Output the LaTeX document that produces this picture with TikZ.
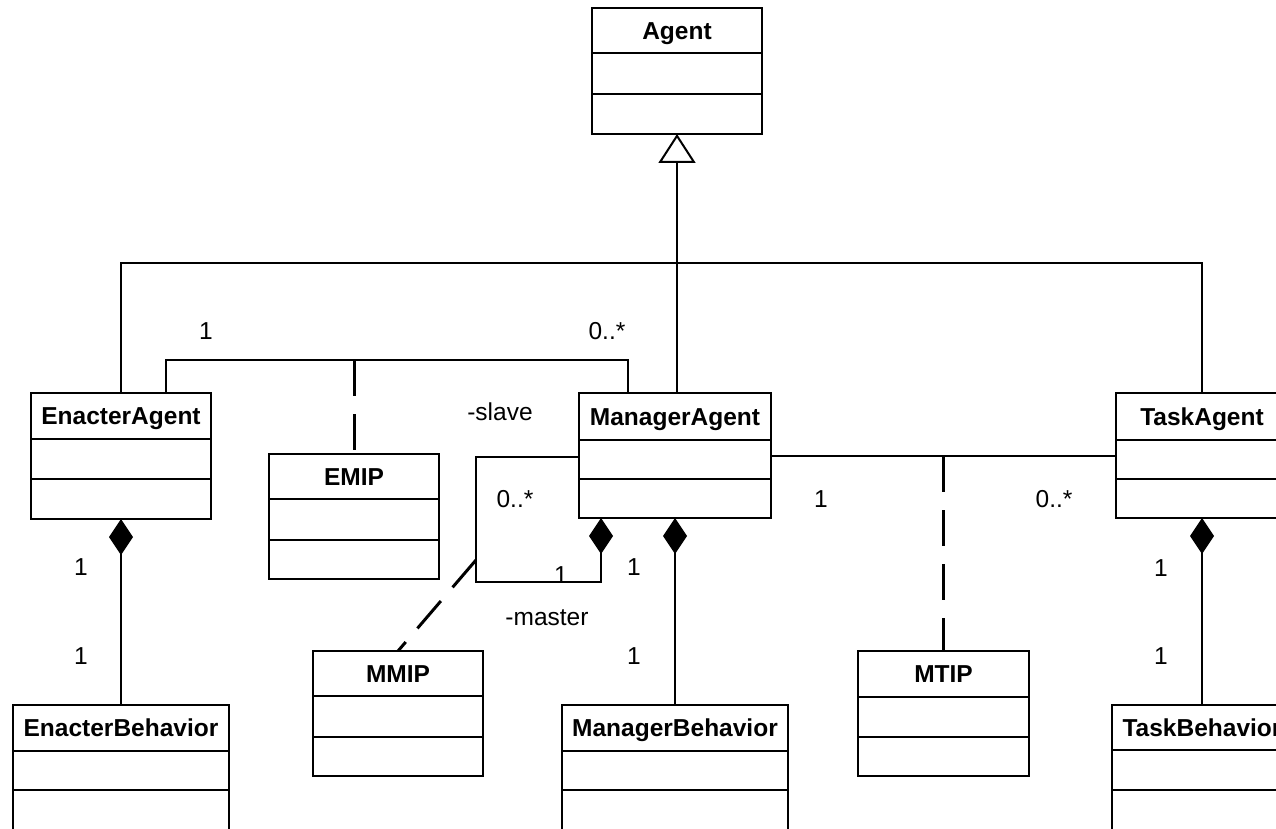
\documentclass[tikz,border=0pt]{standalone}
\usepackage{fontspec}
\setmainfont{Liberation Sans}
\usetikzlibrary{arrows.meta,calc,fit}
\newcommand{\umlclass}[8]{%
  \node[clsbox, fit={(#2,#3) (#4,#5)}] (#1) {};
  \draw[boxline] (#2,#6) -- (#4,#6);
  \draw[boxline] (#2,#7) -- (#4,#7);
  \node[ttl] (#1-t) at ({(#2+#4)/2},{(#3+#6)/2+8.8}) {#8};
}
\begin{document}
\begin{tikzpicture}[x=1pt,y=-1pt,
  boxline/.style={line width=2pt},
  clsbox/.style={draw, line width=2pt, inner sep=0pt, outer sep=0pt},
  conn/.style={line width=1.3pt},
  assocdash/.style={line width=3pt, dash pattern=on 36pt off 18pt},
  comp/.style={conn, -{Diamond[length=36pt,width=24pt]}},
  gen/.style={line width=2.6pt, -{Triangle[open,length=29pt,width=37pt,line width=2pt,fill=white]}},
  ttl/.style={font=\fontsize{24.5}{29}\selectfont\bfseries, anchor=base, inner sep=0pt},
  lbl/.style={font=\fontsize{24.5}{29}\selectfont, inner sep=0pt}
]
\useasboundingbox (0,0) rectangle (1276,829);
\clip (0,0) rectangle (1276,829);

% classes
\umlclass{agent}{592}{8}{762}{134}{53}{94}{Agent}
\umlclass{enacter}{31}{393}{211}{519}{439}{479}{EnacterAgent}
\umlclass{manager}{579}{393}{771}{518}{440}{479}{ManagerAgent}
\umlclass{task}{1116}{393}{1288}{518}{440}{479}{TaskAgent}
\umlclass{emip}{269}{454}{439}{579}{499}{540}{EMIP}
\umlclass{mmip}{313}{651}{483}{776}{696}{737}{MMIP}
\umlclass{mtip}{858}{651}{1029}{776}{697}{737}{MTIP}
\umlclass{ebeh}{13}{705}{229}{835}{751}{790}{EnacterBehavior}
\umlclass{mbeh}{562}{705}{788}{835}{751}{790}{ManagerBehavior}
\umlclass{tbeh}{1112}{705}{1292}{835}{750}{790}{TaskBehavior}

% generalization
\coordinate (busC) at (677,263);
\draw[conn] (enacter.north) |- (busC);
\draw[conn] (task.north) |- (busC);
\draw[conn] (agent.south |- manager.north) -- (busC);
\draw[gen] (busC) -- (agent.south);

% EnacterAgent -- ManagerAgent with EMIP
\coordinate (emL) at ($(enacter.north west)+(135,-33)$);
\draw[conn] ($(enacter.north west)+(135,0)$) -- (emL) -| ($(manager.north west)+(49,0)$);
\draw[assocdash] (emL -| emip.north) -- (emip.north);

% ManagerAgent self association with MMIP
\coordinate (selfBL) at (476,582);
\coordinate (selfJ) at (476,560);
\draw[comp] ($(manager.north west)+(0,64)$) -| (selfBL) -| ($(manager.south west)+(22,0)$);
\draw[assocdash] (selfJ) -- (mmip.north);

% compositions
\draw[comp] (ebeh.north) -- (enacter.south);
\draw[comp] (mbeh.north) -- (manager.south);
\draw[comp] (tbeh.north) -- (task.south);

% ManagerAgent -- TaskAgent with MTIP
\coordinate (mtL) at ($(manager.north east)+(0,63)$);
\draw[conn] (mtL) -- (mtL -| task.west);
\draw[assocdash] (mtL -| mtip.north) -- (mtip.north);

% labels
\node[lbl] (l1) at (206,331) {1};
\node[lbl] (l2) at (607,331) {0..*};
\node[lbl] (l3) at (500,412) {-slave};
\node[lbl] (l4) at (515,499) {0..*};
\node[lbl] (l5) at (561,575) {1};
\node[lbl] (l6) at (634,567) {1};
\node[lbl] (l7) at (547,618) {-master};
\node[lbl] (l8) at (634,656) {1};
\node[lbl] (l9) at (821,499) {1};
\node[lbl] (l10) at (1054,499) {0..*};
\node[lbl] (l11) at (81,567) {1};
\node[lbl] (l12) at (81,656) {1};
\node[lbl] (l13) at (1161,568) {1};
\node[lbl] (l14) at (1161,656) {1};
\end{tikzpicture}
\end{document}
